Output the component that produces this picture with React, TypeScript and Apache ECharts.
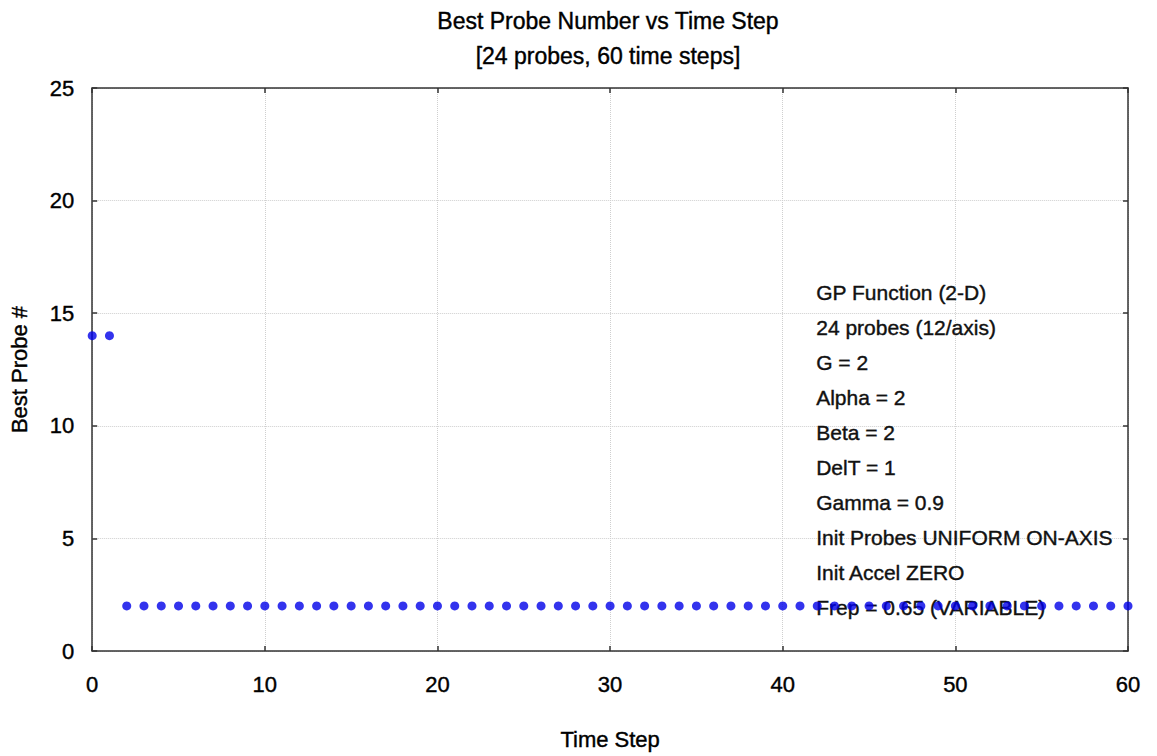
import React, { useEffect, useRef } from "react";
import * as echarts from "echarts";

const TITLE = "Best Probe Number vs Time Step";
const SUBTITLE = "[24 probes, 60 time steps]";
const X_NAME = "Time Step";
const Y_NAME = "Best Probe #";

const timeSteps = [
  0, 1, 2, 3, 4, 5, 6, 7, 8, 9, 10, 11, 12, 13, 14, 15, 16, 17, 18, 19, 20,
  21, 22, 23, 24, 25, 26, 27, 28, 29, 30, 31, 32, 33, 34, 35, 36, 37, 38, 39, 40,
  41, 42, 43, 44, 45, 46, 47, 48, 49, 50, 51, 52, 53, 54, 55, 56, 57, 58, 59, 60,
];
const bestProbe = [
  14, 14, 2, 2, 2, 2, 2, 2, 2, 2, 2, 2, 2, 2, 2, 2, 2, 2, 2, 2, 2,
  2, 2, 2, 2, 2, 2, 2, 2, 2, 2, 2, 2, 2, 2, 2, 2, 2, 2, 2, 2,
  2, 2, 2, 2, 2, 2, 2, 2, 2, 2, 2, 2, 2, 2, 2, 2, 2, 2, 2, 2,
];

const annotationLines = [
  "GP Function (2-D)",
  "24 probes (12/axis)",
  "G = 2",
  "Alpha = 2",
  "Beta = 2",
  "DelT = 1",
  "Gamma = 0.9",
  "Init Probes UNIFORM ON-AXIS",
  "Init Accel ZERO",
  "Frep = 0.65 (VARIABLE)",
];

const FONT = "'Liberation Sans', Arial, Helvetica, sans-serif";
const FS = 22;
const heavy = { textBorderColor: "#000", textBorderWidth: 0.4 };

export default function App() {
  const ref = useRef<HTMLDivElement>(null);
  useEffect(() => {
    if (!ref.current) return;
    const chart = echarts.init(ref.current, null, { renderer: "svg" });
    const axisLine = { show: true, onZero: false, lineStyle: { color: "#333", width: 1.5 } };
    const tick = { show: true, inside: true, length: 5, lineStyle: { color: "#333", width: 1.5 } };
    const split = { show: true, lineStyle: { color: "#cfcfcf", type: "dotted", width: 1 } };
    const label = { fontFamily: FONT, fontSize: FS, color: "#000", ...heavy };
    chart.setOption({
      animation: false,
      backgroundColor: "#fff",
      textStyle: { fontFamily: FONT },
      title: {
        text: TITLE + "\n" + SUBTITLE,
        left: 608,
        textAlign: "center",
        top: 3,
        padding: 0,
        textStyle: { fontFamily: FONT, fontSize: 23, fontWeight: "normal", color: "#000", lineHeight: 35, ...heavy },
      },
      grid: { left: 89, right: 29, top: 88, bottom: 105, containLabel: false },
      xAxis: [
        {
          type: "value",
          min: 0,
          max: 60,
          interval: 10,
          position: "bottom",
          name: X_NAME,
          nameLocation: "middle",
          nameGap: 77,
          nameTextStyle: label,
          axisLine,
          axisTick: tick,
          axisLabel: { margin: 22, ...label },
          splitLine: split,
        },
        {
          type: "value",
          min: 0,
          max: 60,
          interval: 10,
          position: "top",
          axisLine,
          axisTick: tick,
          axisLabel: { show: false },
          splitLine: { show: false },
        },
      ],
      yAxis: [
        {
          type: "value",
          min: 0,
          max: 25,
          interval: 5,
          position: "left",
          name: Y_NAME,
          nameLocation: "middle",
          nameGap: 62,
          nameTextStyle: label,
          axisLine,
          axisTick: tick,
          axisLabel: { margin: 18, ...label },
          splitLine: split,
        },
        {
          type: "value",
          min: 0,
          max: 25,
          interval: 5,
          position: "right",
          axisLine,
          axisTick: tick,
          axisLabel: { show: false },
          splitLine: { show: false },
        },
      ],
      graphic: [
        {
          type: "text",
          left: 816,
          top: 275,
          z: 1,
          style: {
            text: annotationLines.join("\n"),
            font: `21px ${FONT}`,
            fill: "#111",
            lineHeight: 35,
            stroke: "#111",
            lineWidth: 0.4,
          },
        },
      ],
      series: [
        {
          type: "scatter",
          xAxisIndex: 0,
          yAxisIndex: 0,
          symbol: "circle",
          symbolSize: 9,
          itemStyle: { color: "#0000e8" },
          z: 5,
          data: timeSteps.map((t, i) => [t, bestProbe[i]]),
        },
      ],
    });
    return () => chart.dispose();
  }, []);
  return (
    <div
      ref={ref}
      style={{ position: "absolute", left: 0, top: 0, width: 1157, height: 756, background: "#fff" }}
    />
  );
}
